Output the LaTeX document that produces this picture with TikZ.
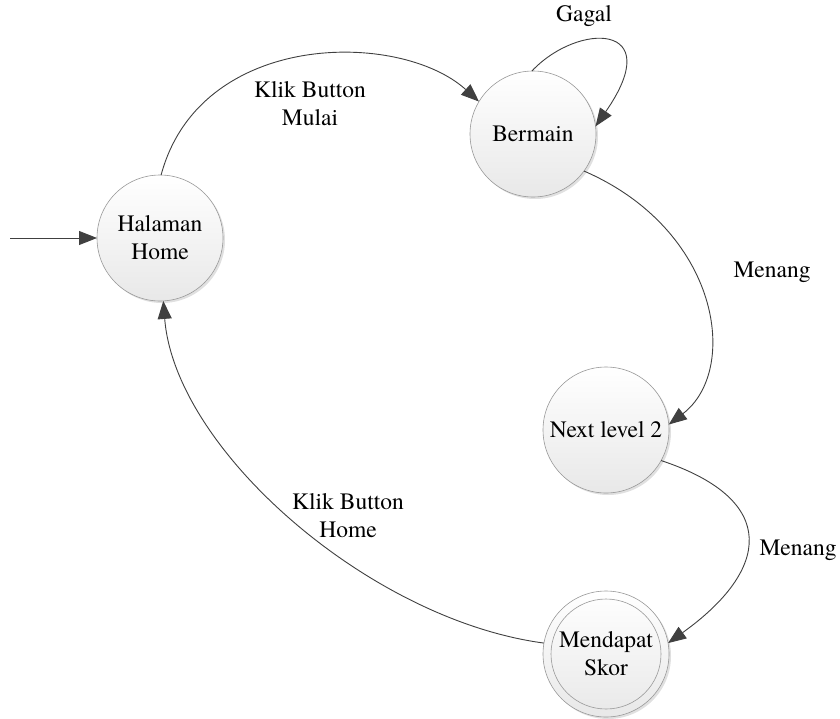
\documentclass[tikz,border=0pt]{standalone}
\usepackage{fontspec}
\setmainfont{TeX Gyre Termes}
\usetikzlibrary{arrows.meta}
\begin{document}
\begin{tikzpicture}[x=1pt,y=-1pt,
  state/.style={circle,minimum size=126pt,inner sep=0pt,outer sep=0pt,draw=black!40,line width=0.6pt,
    top color=white,bottom color=black!9,align=center,font=\fontsize{23.5}{28}\selectfont},
  shadowc/.style={fill=black!12,draw=none},
  trans/.style={draw=black!75,line width=0.9pt,-{Triangle[length=18pt,width=14pt]},color=black!75},
  lbl/.style={align=center,font=\fontsize{23.5}{28}\selectfont,text=black}]
\useasboundingbox (0,0) rectangle (840,718);
% shadows
\fill[shadowc] (162,240) circle (63);
\fill[shadowc] (535,136) circle (63);
\fill[shadowc] (608,432) circle (63);
\fill[shadowc] (608,656) circle (63);
% states
\node[state] (h) at (160,238) {Halaman\\Home};
\node[state] (b) at (533,134) {Bermain};
\node[state] (n) at (606,430) {Next level 2};
\node[state] (m) at (606,654) {};
\draw[black!40,line width=0.6pt] (m.center) circle (55);
\node[lbl] (mt) at (m.center) {Mendapat\\Skor};
\coordinate (start) at (10,238);
% transitions
\draw[trans] (start) -- (h.180);
\draw[trans] (h.89) .. controls (200,30) and (400,30) .. (b.149);
\draw[trans] (b.91) .. controls (578,22) and (668,22) .. (b.7);
\draw[trans] (b.-36) .. controls (720,230) and (740,370) .. (n.5);
\draw[trans] (n.-29) .. controls (780,500) and (770,570) .. (m.10);
\draw[trans] (m.170) .. controls (370,620) and (175,450) .. (h.-87);
% labels
\node[lbl] (l1) at (310,104) {Klik Button\\Mulai};
\node[lbl] (l2) at (584,16) {Gagal};
\node[lbl] (l3) at (772,272) {Menang};
\node[lbl] (l4) at (798,550) {Menang};
\node[lbl] (l5) at (348,516) {Klik Button\\Home};
\end{tikzpicture}
\end{document}
